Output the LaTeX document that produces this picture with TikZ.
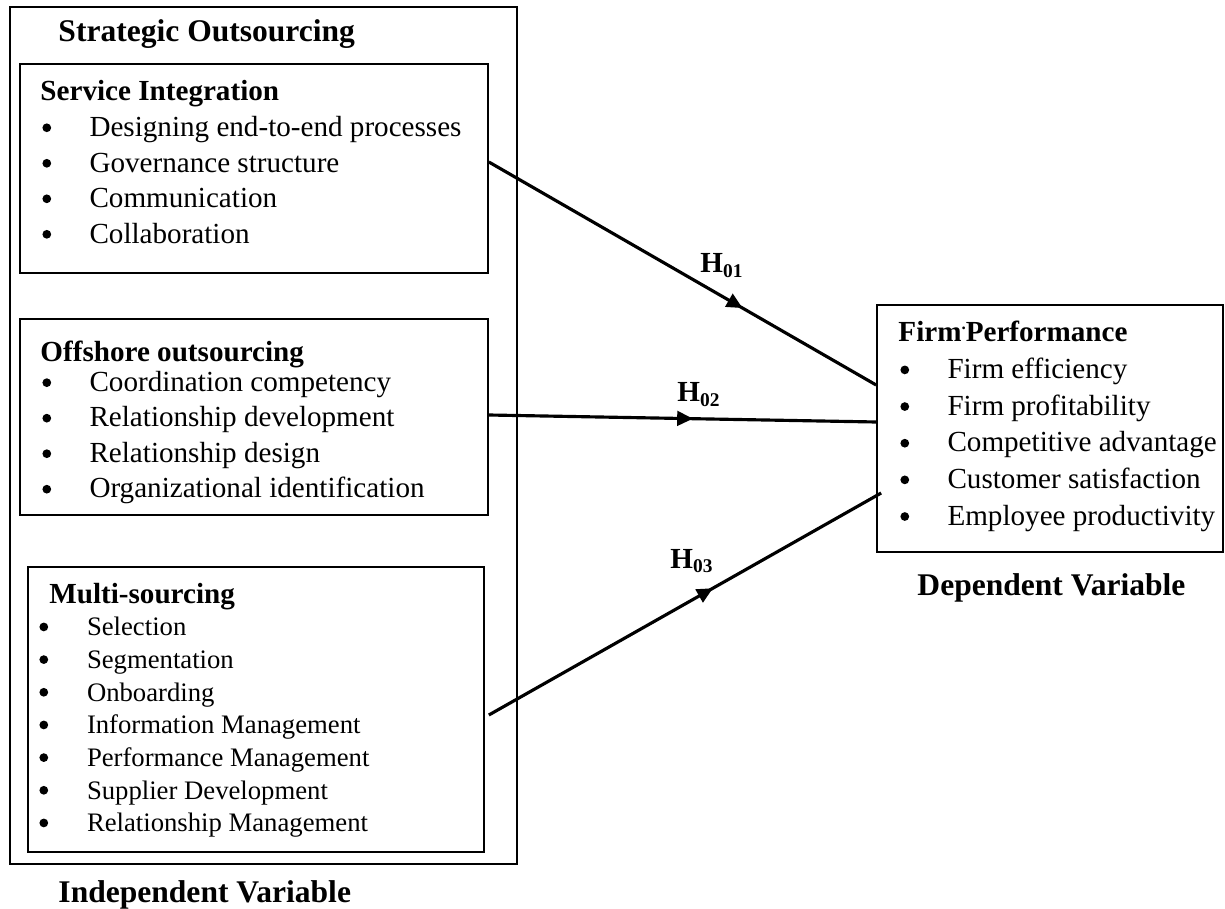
\documentclass[tikz,border=0pt]{standalone}
\usepackage{fontspec}
\setmainfont{Liberation Serif}
\usetikzlibrary{arrows.meta, decorations.markings}

\newlength{\pxu}
\setlength{\pxu}{0.412pt}
\newcommand{\blt}{\tikz[baseline=0pt]\fill (1.8pt,3.6pt) circle (1.8pt);}
\newcommand{\itm}[2][19.4pt]{\hspace{0.8pt}\makebox[#1][l]{\blt}#2}

\begin{document}
\begin{tikzpicture}[
    x=0.412pt, y=-0.412pt,
    box/.style={draw, line width=0.7pt, inner sep=0pt},
    txt/.style={anchor=base west, inner sep=0pt, font=\fontsize{12}{14.63}\selectfont},
    ttl/.style={anchor=base west, inner sep=0pt, font=\fontsize{13}{15.6}\selectfont\bfseries},
    hlab/.style={anchor=base west, inner sep=0pt, font=\fontsize{12}{14}\selectfont\bfseries},
    hyp/.style={line width=1.3pt, postaction={decorate},
        decoration={markings, mark=at position #1 with {\arrow{Triangle[length=6.5pt,width=6pt]}}}}
]
\useasboundingbox (0,0) rectangle (1225,909);

% Boxes
\node[box, minimum width=507\pxu, minimum height=857\pxu] (so) at (263.5,435.5) {};
\node[box, minimum width=468\pxu, minimum height=209\pxu] (si) at (254,168.5) {};
\node[box, minimum width=468\pxu, minimum height=196\pxu] (oo) at (254,417) {};
\node[box, minimum width=456\pxu, minimum height=285\pxu] (ms) at (256,709.5) {};
\node[box, minimum width=346\pxu, minimum height=247\pxu] (fp) at (1050,428.5) {};

% Titles
\node[ttl] (sotitle) at (58,42) {Strategic Outsourcing};
\node[ttl] (indep) at (58,902) {Independent Variable};
\node[ttl] (dep) at (917,595) {Dependent Variable};

% Box contents
\node[txt] (sitxt) at (40,101) {\begin{tabular}[t]{@{}l@{}}
\textbf{Service Integration}\\
\itm{Designing end-to-end processes}\\
\itm{Governance structure}\\
\itm{Communication}\\
\itm{Collaboration}
\end{tabular}};

\node[txt] (ootxt) at (40,361) {\begin{tabular}[t]{@{}l@{}}
\textbf{Offshore outsourcing}\\[-2.1pt]
\itm{Coordination competency}\\
\itm{Relationship development}\\
\itm{Relationship design}\\
\itm{Organizational identification}
\end{tabular}};

\node[txt, font=\fontsize{11}{13.46}\selectfont] (mstxt) at (37,603) {\begin{tabular}[t]{@{}l@{}}
\hspace{4.9pt}\fontsize{12}{13.46}\selectfont\textbf{Multi-sourcing}\\
\itm[19.6pt]{Selection}\\
\itm[19.6pt]{Segmentation}\\
\itm[19.6pt]{Onboarding}\\
\itm[19.6pt]{Information Management}\\
\itm[19.6pt]{Performance Management}\\
\itm[19.6pt]{Supplier Development}\\
\itm[19.6pt]{Relationship Management}
\end{tabular}};

\node[txt, font=\fontsize{12}{15.1}\selectfont] (fptxt) at (898,342) {\begin{tabular}[t]{@{}l@{}}
\textbf{Firm\raisebox{5pt}{\scriptsize.}Performance}\\
\itm{Firm efficiency}\\
\itm{Firm profitability}\\
\itm{Competitive advantage}\\
\itm{Customer satisfaction}\\
\itm{Employee productivity}
\end{tabular}};

% Hypotheses
\draw[hyp=0.655] ([yshift=6.5\pxu]si.east) -- ([yshift=43.5\pxu]fp.west);
\draw[hyp=0.527] ([yshift=2\pxu]oo.east) -- ([yshift=6.5\pxu]fp.west);
\draw[hyp=0.571] ([xshift=4\pxu,yshift=-5.5\pxu]ms.east) -- ([xshift=5\pxu,yshift=-64.5\pxu]fp.west);

\node[hlab] (h1) at (700,273) {H\textsubscript{01}};
\node[hlab] (h2) at (677,402) {H\textsubscript{02}};
\node[hlab] (h3) at (670,568) {H\textsubscript{03}};

\end{tikzpicture}
\end{document}
